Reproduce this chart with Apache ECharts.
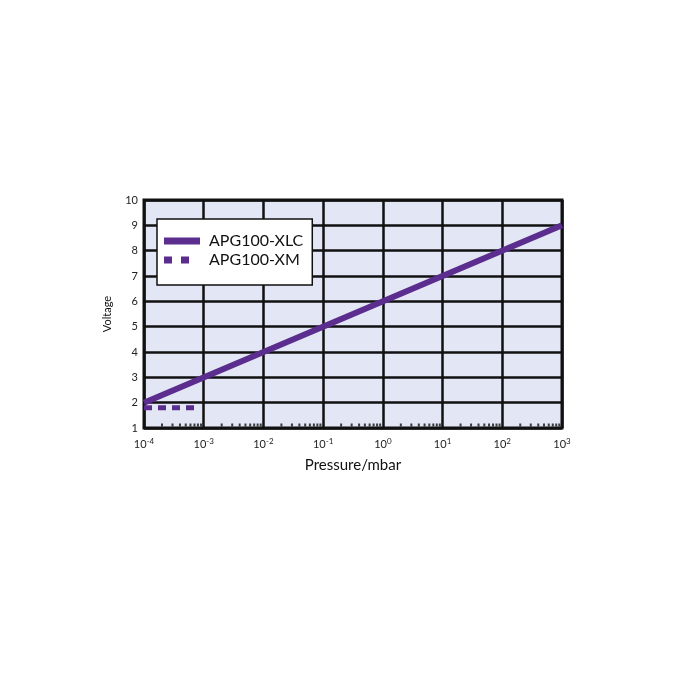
<!DOCTYPE html>
<html><head><meta charset="utf-8">
<script src="https://cdn.jsdelivr.net/npm/echarts@6/dist/echarts.min.js"></script>
<style>html,body{margin:0;padding:0;background:#fff}#c{width:700px;height:700px}</style>
</head><body><div id="c"></div>
<script>
const seriesNames = ['APG100-XLC', 'APG100-XM'];
const xlcPressure = [1e-4, 1e3];
const xlcVoltage = [2, 9];
const xmPressure = [1e-4, 7.5e-4];
const xmVoltage = [1.8, 1.8];
const xMin = 1e-4, xMax = 1e3;
const yMin = 1, yMax = 10, yInterval = 1;
const decadeExponents = [-4, -3, -2, -1, 0, 1, 2];
const minorMultipliers = [2, 3, 4, 5, 6, 7, 8, 9];

const purple = '#5b2d8f';
const font = 'Lato';
const minorTicks = [];
decadeExponents.forEach(e => minorMultipliers.forEach(m => minorTicks.push([m * Math.pow(10, e), yMin])));

const chart = echarts.init(document.getElementById('c'));
chart.setOption({
  animation: false,
  textStyle: { fontFamily: font },
  grid: { left: 144, right: 138, top: 200, bottom: 272, show: true, backgroundColor: '#e3e6f4', borderColor: '#111', borderWidth: 3 },
  legend: {
    left: 157, top: 219, orient: 'vertical', backgroundColor: '#fff', borderColor: '#111', borderWidth: 1.5,
    padding: [14, 9, 17, 7], itemGap: 3, itemWidth: 36, itemHeight: 7,
    textStyle: { fontSize: 16, color: '#111', fontFamily: font, padding: [0, 0, 0, 4] },
    data: [
      { name: seriesNames[0], icon: 'rect' },
      { name: seriesNames[1], icon: 'path://M0,0h8v7h-8zM17,0h8v7h-8zM35.9,3.4h0.1v0.1h-0.1z' }
    ]
  },
  xAxis: {
    type: 'log', logBase: 10, min: xMin, max: xMax,
    name: 'Pressure/mbar', nameLocation: 'middle', nameGap: 30,
    nameTextStyle: { fontSize: 15, color: '#111' },
    axisLine: { show: false }, axisTick: { show: false },
    splitLine: { show: true, lineStyle: { color: '#111', width: 2.5 } },
    axisLabel: {
      margin: 9, color: '#222', fontSize: 11,
      formatter: v => '10{s|' + Math.round(Math.log10(v)) + '}',
      rich: { s: { fontSize: 8, verticalAlign: 'top', padding: [0, 0, 6, 0], color: '#222' } }
    }
  },
  yAxis: {
    type: 'value', min: yMin, max: yMax, interval: yInterval,
    name: 'Voltage', nameLocation: 'middle', nameGap: 31, nameRotate: 90,
    nameTextStyle: { fontSize: 11, color: '#111' },
    axisLine: { show: false }, axisTick: { show: false },
    splitLine: { show: true, lineStyle: { color: '#111', width: 2.5 } },
    axisLabel: { margin: 6, color: '#222', fontSize: 11 }
  },
  series: [
    { name: seriesNames[0], type: 'line', showSymbol: false, symbol: 'none', z: 3,
      data: xlcPressure.map((p, i) => [p, xlcVoltage[i]]),
      lineStyle: { color: purple, width: 6 }, itemStyle: { color: purple } },
    { name: seriesNames[1], type: 'line', showSymbol: false, symbol: 'none', z: 3,
      data: xmPressure.map((p, i) => [p, xmVoltage[i]]),
      lineStyle: { color: purple, width: 5, type: [8, 6], cap: 'butt' }, itemStyle: { color: purple } },
    { name: 'minor', type: 'scatter', silent: true, z: 4, symbol: 'rect', symbolSize: [2, 3], symbolOffset: [0, -3],
      itemStyle: { color: '#111' }, data: minorTicks }
  ]
});
</script></body></html>
